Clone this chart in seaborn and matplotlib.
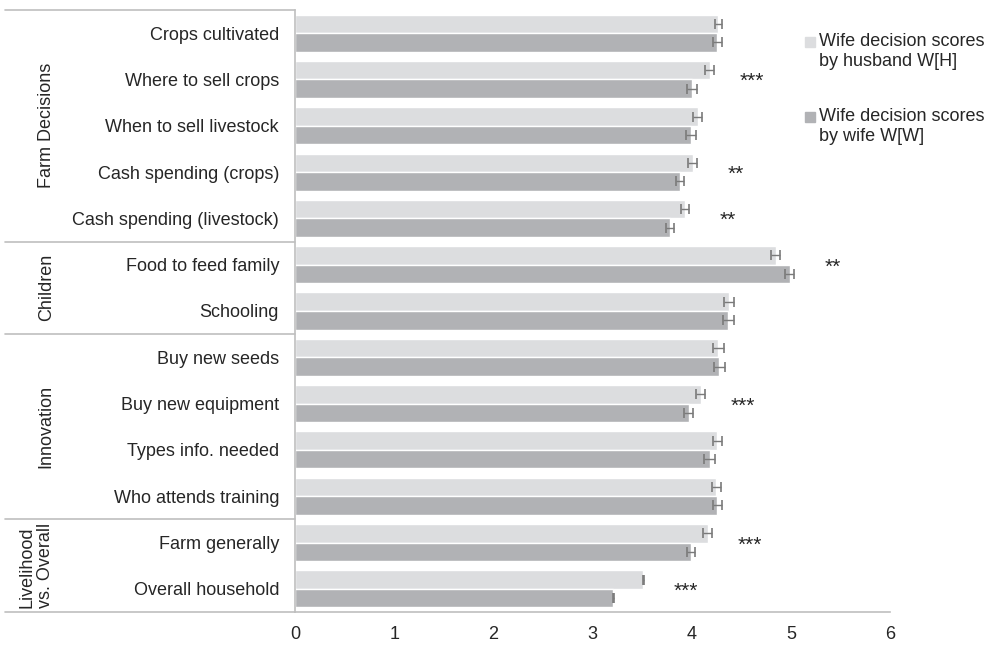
import pandas as pd
import matplotlib.pyplot as plt
import matplotlib.transforms as mtransforms
from matplotlib.patches import Rectangle
import seaborn as sns

# Decision items, top to bottom
categories = ["Crops cultivated", "Where to sell crops", "When to sell livestock",
              "Cash spending (crops)", "Cash spending (livestock)",
              "Food to feed family", "Schooling",
              "Buy new seeds", "Buy new equipment", "Types info. needed", "Who attends training",
              "Farm generally", "Overall household"]
group_names = ["Farm Decisions", "Children", "Innovation", "Livelihood\nvs. Overall"]
group_sizes = [5, 2, 4, 2]

series_names = ["Wife decision scores\nby husband W[H]", "Wife decision scores\nby wife W[W]"]
husband = [4.27, 4.18, 4.06, 4.01, 3.93, 4.85, 4.38, 4.27, 4.09, 4.26, 4.25, 4.16, 3.51]
wife = [4.26, 4.00, 3.99, 3.88, 3.78, 4.99, 4.37, 4.28, 3.97, 4.18, 4.26, 3.99, 3.21]
husband_err = [0.037, 0.05, 0.047, 0.045, 0.042, 0.045, 0.05, 0.052, 0.043, 0.047, 0.047, 0.042, 0.005]
wife_err = [0.044, 0.05, 0.05, 0.043, 0.042, 0.047, 0.052, 0.052, 0.045, 0.052, 0.045, 0.042, 0.005]
stars = ["", "***", "", "**", "**", "**", "", "", "***", "", "", "***", "***"]

colors = ["#dcdddf", "#b1b2b5"]
line_grey = "#bfbfbf"
text_col = "#262626"
fs = 13

df = pd.DataFrame({
    "item": categories * 2,
    "score": husband + wife,
    "series": [series_names[0]] * len(categories) + [series_names[1]] * len(categories),
})

sns.set_style("white")
plt.rcParams['font.family'] = ['Liberation Sans', 'DejaVu Sans']

fig, ax = plt.subplots(figsize=(9.88, 6.45), dpi=100)
fig.subplots_adjust(left=0.2986, right=0.9008, bottom=0.0512, top=0.9845)

sns.barplot(data=df, x="score", y="item", hue="series", palette=colors,
            orient="h", errorbar=None, width=0.8, saturation=1, ax=ax, legend=False)

# error bars on each bar
for cont, errs in zip(ax.containers, [husband_err, wife_err]):
    ys = [b.get_y() + b.get_height() / 2 for b in cont]
    xs = [b.get_width() for b in cont]
    ax.errorbar(xs, ys, xerr=errs, fmt="none", ecolor="#7a7a7a",
                elinewidth=1, capsize=3.5, capthick=1.2)

# significance stars
for i, s in enumerate(stars):
    if s:
        ax.text(max(husband[i], wife[i]) + 0.43, i + 0.05, s, ha="center", va="center",
                fontsize=15, color=text_col)

ax.set_xlim(0, 6)
ax.set_ylim(len(categories) - 0.5, -0.5)
ax.set_xticks(range(7))
ax.set_xlabel("")
ax.set_ylabel("")
ax.tick_params(axis="x", length=5, color=line_grey, labelsize=fs, labelcolor=text_col, pad=5)
ax.tick_params(axis="y", length=0, labelsize=fs, labelcolor=text_col, pad=11.5)
for side in ["top", "right"]:
    ax.spines[side].set_visible(False)
for side in ["left", "bottom"]:
    ax.spines[side].set_color(line_grey)
    ax.spines[side].set_linewidth(1.2)

# group brackets on the left
trans = mtransforms.blended_transform_factory(ax.transAxes, ax.transData)
bounds = [-0.5]
for n in group_sizes:
    bounds.append(bounds[-1] + n)
for b in bounds:
    ax.plot([-0.487, 0], [b, b], transform=trans, clip_on=False, color=line_grey, lw=1.2)
for name, lo, hi in zip(group_names, bounds[:-1], bounds[1:]):
    xpos = -0.435 if "\n" in name else -0.418
    ax.text(xpos, (lo + hi) / 2, name, transform=trans, rotation=90, ha="center",
            va="center", multialignment="left", fontsize=fs, color=text_col,
            linespacing=1.05)

# legend, drawn by hand to keep the square beside the first line
leg_top = [36, 111]
for name, col, top in zip(series_names, colors, leg_top):
    fig.patches.append(Rectangle((805 / 988, 1 - (top + 11) / 645), 10 / 988, 10 / 645,
                                 transform=fig.transFigure, color=col))
    fig.text(819 / 988, 1 - (top - 3) / 645, name, ha="left", va="top",
             fontsize=fs, color=text_col, linespacing=1.2)

plt.savefig("out.png", dpi=100)
